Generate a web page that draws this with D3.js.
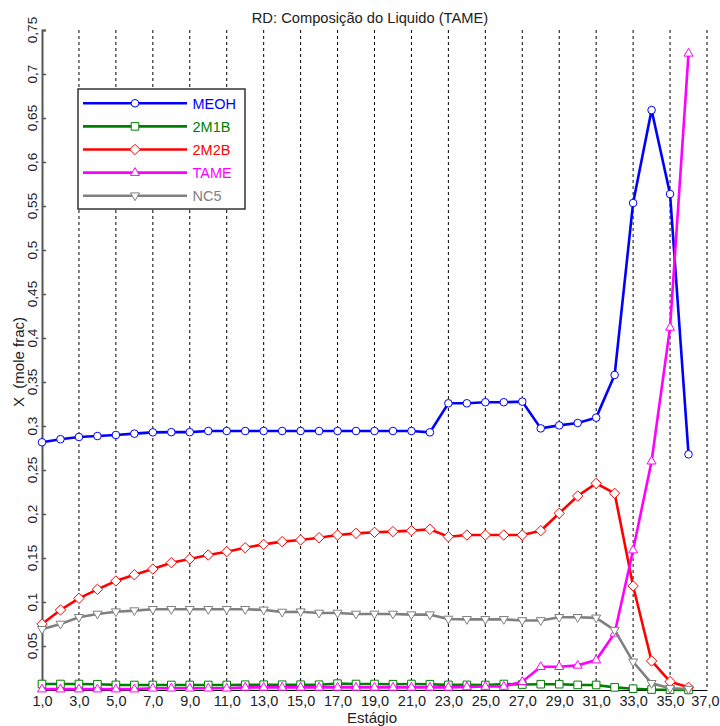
<!DOCTYPE html>
<html lang="pt">

<head>
  <meta charset="utf-8" />
  <title>RD: Composição do Liquido (TAME)</title>
  <script type="text/javascript" src="https://cdn.jsdelivr.net/npm/d3@7"></script>
  <style>
    body {
      margin: 0;
      background: #ffffff;
      font-family: Arial, "Liberation Sans", sans-serif;
    }
  </style>
</head>

<body>
  <script type="text/javascript">
    // estagios 1..36
    var stages = d3.range(1, 37);

    var meoh = [0.2815, 0.285, 0.2875, 0.2886, 0.2898, 0.2913, 0.2928, 0.293, 0.293, 0.2943, 0.2943, 0.2943,
      0.2943, 0.2943, 0.2943, 0.2943, 0.2943, 0.2943, 0.2943, 0.2943, 0.2943, 0.2928, 0.3258, 0.3258,
      0.327, 0.327, 0.3277, 0.2973, 0.3007, 0.3034, 0.3095, 0.358, 0.5534, 0.659, 0.5636, 0.2678];
    var m1b = [0.0068, 0.0068, 0.0068, 0.0066, 0.0058, 0.0057, 0.0057, 0.0057, 0.0057, 0.0057, 0.0057, 0.006,
      0.006, 0.006, 0.006, 0.006, 0.0072, 0.0068, 0.0068, 0.0066, 0.0068, 0.0066, 0.0058, 0.0058,
      0.0057, 0.0068, 0.0062, 0.0066, 0.0066, 0.0058, 0.0057, 0.003, 0.0015, 0.0005, 0.0002, 0.0001];
    var m2b = [0.075, 0.0909, 0.1042, 0.1144, 0.1239, 0.131, 0.1375, 0.1447, 0.1489, 0.1534, 0.1572, 0.1617,
      0.1655, 0.1686, 0.1705, 0.1731, 0.1761, 0.178, 0.1792, 0.18, 0.1811, 0.1826, 0.1742, 0.1761,
      0.1761, 0.1761, 0.1761, 0.181, 0.2008, 0.2205, 0.2348, 0.2235, 0.1182, 0.033, 0.0095, 0.003];
    var tame = [0.001, 0.001, 0.001, 0.001, 0.001, 0.001, 0.002, 0.002, 0.002, 0.002, 0.002, 0.003,
      0.003, 0.003, 0.003, 0.003, 0.003, 0.003, 0.003, 0.003, 0.003, 0.003, 0.003, 0.0035,
      0.004, 0.004, 0.0095, 0.0265, 0.0265, 0.028, 0.034, 0.0644, 0.159, 0.26, 0.412, 0.7235];
    var nc5 = [0.069, 0.075, 0.0826, 0.0864, 0.089, 0.0902, 0.0917, 0.0917, 0.0917, 0.0917, 0.0917, 0.0917,
      0.091, 0.0886, 0.089, 0.0875, 0.0875, 0.0864, 0.0864, 0.0864, 0.0856, 0.0856, 0.0807, 0.0803,
      0.0803, 0.0803, 0.079, 0.079, 0.0826, 0.0826, 0.082, 0.068, 0.032, 0.0076, 0.002, 0.001];

    var names = ["MEOH", "2M1B", "2M2B", "TAME", "NC5"];
    var colors = ["#0000ff", "#008000", "#ff0000", "#ff00ff", "#808080"];
    var allSeries = [meoh, m1b, m2b, tame, nc5];

    var xTicks = d3.range(1, 38, 2);
    var yTicks = d3.range(1, 16).map(function (i) { return i * 0.05; });

    var width = 720;
    var height = 726;
    var mLeft = 42, mRight = 707, mTop = 30, mBottom = 690;

    var svg = d3.select("body")
      .append("svg")
      .attr("width", width)
      .attr("height", height);

    var xScale = d3.scaleLinear().domain([1, 37]).range([mLeft, mRight]);
    var yScale = d3.scaleLinear().domain([0, 0.75]).range([mBottom, mTop]);
    var fmt = function (d) { return d3.format(".2~f")(d).replace(".", ","); };

    // grade tracejada
    svg.append("g")
      .selectAll("line")
      .data(xTicks.slice(1))
      .enter()
      .append("line")
      .attr("x1", function (d) { return xScale(d); })
      .attr("x2", function (d) { return xScale(d); })
      .attr("y1", mTop)
      .attr("y2", mBottom)
      .attr("stroke", "#000")
      .attr("stroke-width", 1)
      .attr("stroke-dasharray", "3,3");

    // eixo x
    var xAxis = d3.axisBottom(xScale).tickValues(xTicks).tickSize(0).tickPadding(6)
      .tickFormat(function (d) { return d + ",0"; });
    var gx = svg.append("g")
      .attr("transform", "translate(0," + mBottom + ")")
      .call(xAxis);
    gx.select(".domain").attr("stroke", "#000").attr("stroke-width", 1);
    gx.selectAll("text").attr("font-size", 14.5).attr("font-family", "Arial, 'Liberation Sans', sans-serif")
      .attr("fill", "#222");
    // o ultimo rotulo encosta na borda
    gx.selectAll(".tick text").filter(function (d) { return d == 37; })
      .attr("text-anchor", "end")
      .attr("x", 12);

    // eixo y
    var yAxis = d3.axisRight(yScale).tickValues(yTicks).tickSize(4).tickFormat("");
    var gy = svg.append("g")
      .attr("transform", "translate(" + mLeft + ",0)")
      .call(yAxis);
    gy.select(".domain").attr("stroke", "#555").attr("stroke-width", 2);
    gy.selectAll(".tick line").attr("stroke", "#555").attr("stroke-width", 1.5);

    svg.append("g")
      .selectAll("text")
      .data(yTicks)
      .enter()
      .append("text")
      .attr("transform", function (d) { return "translate(37," + yScale(d) + ") rotate(-90)"; })
      .attr("text-anchor", "middle")
      .attr("font-size", 13.5)
      .attr("fill", "#222")
      .text(fmt);

    svg.append("text")
      .attr("transform", "translate(24,362) rotate(-90)")
      .attr("text-anchor", "middle")
      .attr("font-size", 15)
      .attr("fill", "#222")
      .attr("xml:space", "preserve")
      .text("X  (mole frac)");

    svg.append("text")
      .attr("x", 372)
      .attr("y", 723)
      .attr("text-anchor", "middle")
      .attr("font-size", 15)
      .attr("fill", "#222")
      .text("Estágio");

    svg.append("text")
      .attr("x", 370)
      .attr("y", 23)
      .attr("text-anchor", "middle")
      .attr("font-size", 14.7)
      .attr("fill", "#222")
      .text("RD: Composição do Liquido (TAME)");

    // marcadores: circulo, quadrado, losango, triangulo, triangulo invertido
    function markerPath(j) {
      if (j == 0) return "M3.8,0A3.8,3.8 0 1,1 -3.8,0A3.8,3.8 0 1,1 3.8,0Z";
      if (j == 1) return "M-3.8,-3.8L3.8,-3.8L3.8,3.8L-3.8,3.8Z";
      if (j == 2) return "M0,-5.2L5.2,0L0,5.2L-5.2,0Z";
      if (j == 3) return "M0,-5L4.5,2.8L-4.5,2.8Z";
      return "M0,5L4.5,-2.8L-4.5,-2.8Z";
    }

    var line = d3.line()
      .x(function (d, i) { return xScale(stages[i]); })
      .y(function (d) { return yScale(d); });

    for (var j = 0; j < allSeries.length; j++) {
      svg.append("path")
        .datum(allSeries[j])
        .attr("d", line)
        .attr("fill", "none")
        .attr("stroke", colors[j])
        .attr("stroke-width", 2.6);

      svg.append("g")
        .selectAll("path")
        .data(allSeries[j])
        .enter()
        .append("path")
        .attr("d", markerPath(j))
        .attr("transform", function (d, i) { return "translate(" + xScale(stages[i]) + "," + yScale(d) + ")"; })
        .attr("fill", "#fff")
        .attr("stroke", colors[j])
        .attr("stroke-width", 1);
    }

    // legenda
    var lg = svg.append("g");
    lg.append("rect")
      .attr("x", 78)
      .attr("y", 89)
      .attr("width", 167)
      .attr("height", 120)
      .attr("fill", "#fff")
      .attr("stroke", "#333")
      .attr("stroke-width", 1.5);

    names.forEach(function (name, j) {
      var y = 103.3 + j * 23.1;
      lg.append("line")
        .attr("x1", 83).attr("x2", 187)
        .attr("y1", y).attr("y2", y)
        .attr("stroke", colors[j])
        .attr("stroke-width", 2.6);
      lg.append("path")
        .attr("d", markerPath(j))
        .attr("transform", "translate(135," + y + ")")
        .attr("fill", "#fff")
        .attr("stroke", colors[j])
        .attr("stroke-width", 1);
      lg.append("text")
        .attr("x", 192.5)
        .attr("y", y + 5.2)
        .attr("font-size", 14.5)
        .attr("fill", colors[j])
        .text(name);
    });
  </script>
</body>

</html>
